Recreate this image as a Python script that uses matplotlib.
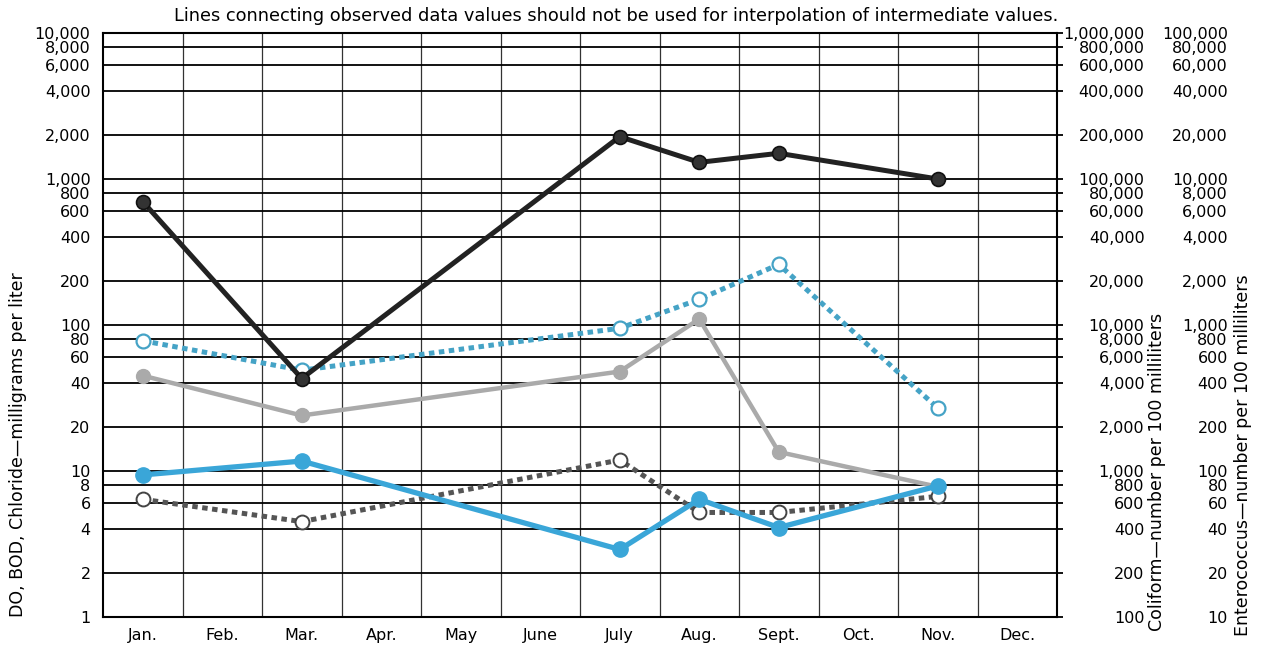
import numpy as np
from matplotlib import pyplot as plt
from matplotlib.ticker import FixedLocator, NullLocator

plt.rcParams['font.family'] = ['DejaVu Sans']

months = ["Jan.", "Feb.", "Mar.", "Apr.", "May", "June",
          "July", "Aug.", "Sept.", "Oct.", "Nov.", "Dec."]
sample_months = [0, 2, 6, 7, 8, 10]   # Jan, Mar, July, Aug, Sept, Nov

# values in the units of each scale
coliform = [70000, 4300, 195000, 130000, 150000, 100000]   # per 100 mL
enterococcus = [780, 490, 950, 1500, 2600, 270]           # per 100 mL
chloride = [45, 24, 48, 110, 13.5, 7.8]                    # mg/L
dissolved_oxygen = [9.4, 11.7, 2.9, 6.4, 4.1, 7.9]         # mg/L
bod = [6.4, 4.5, 11.9, 5.2, 5.2, 6.7]                      # mg/L

left_ticks = [1, 2, 4, 6, 8, 10, 20, 40, 60, 80, 100, 200, 400, 600, 800,
              1000, 2000, 4000, 6000, 8000, 10000]

fig = plt.figure(figsize=(12.81, 6.53), dpi=100)
ax = fig.add_axes([103 / 1281, 36 / 653, 954 / 1281, 584 / 653])

ax.set_yscale('log')
ax.set_ylim(1, 10000)
ax.set_xlim(-0.5, 11.5)

# grid
ax.yaxis.set_major_locator(FixedLocator(left_ticks))
ax.yaxis.set_minor_locator(NullLocator())
ax.set_yticklabels([f"{v:,}" for v in left_ticks])
ax.set_xticks(range(12))
ax.set_xticklabels(months)
ax.set_xticks(np.arange(0.5, 11.5, 1), minor=True)
ax.grid(axis='y', which='major', color='black', linewidth=1.3)
ax.grid(axis='x', which='minor', color='#333333', linewidth=0.9)
ax.tick_params(axis='x', which='both', length=0, labelsize=11.5, pad=8)
ax.tick_params(axis='y', which='major', length=0, labelsize=11.5, pad=9)
for s in ax.spines.values():
    s.set_linewidth(1.5)
    s.set_color('black')
ax.set_axisbelow(True)

# series
ax.plot(sample_months, np.array(coliform) / 100, color='#222222', lw=3.6,
        marker='o', ms=10, mfc='#333333', mec='#111111', mew=1.2, zorder=5,
        solid_capstyle='round')
ax.plot(sample_months, chloride, color='#aaaaaa', lw=3.2,
        marker='o', ms=10, mfc='#aaaaaa', mec='#aaaaaa', zorder=4)
ax.plot(sample_months, np.array(enterococcus) / 10, color='#45a3c6', lw=3.6,
        ls=(0, (1.1, 0.9)), marker='o', ms=10, mfc='white', mec='#45a3c6',
        mew=1.6, zorder=4)
ax.plot(sample_months, bod, color='#555555', lw=3.6,
        ls=(0, (1.1, 0.9)), marker='o', ms=10, mfc='white', mec='#444444',
        mew=1.4, zorder=4)
ax.plot(sample_months, dissolved_oxygen, color='#3aa6d8', lw=3.8,
        marker='o', ms=11, mfc='#3aa6d8', mec='#3aa6d8', zorder=6)

# right-hand scales
ax2 = ax.twinx()
ax2.set_yscale('log')
ax2.set_ylim(100, 1000000)
col_ticks = [v * 100 for v in left_ticks]
ax2.yaxis.set_major_locator(FixedLocator(col_ticks))
ax2.yaxis.set_minor_locator(NullLocator())
ax2.set_yticklabels([f"{v:,}" for v in col_ticks])
ax2.tick_params(axis='y', length=4, width=1.3, direction='out',
                labelsize=11.5, pad=59)
for lab in ax2.get_yticklabels():
    lab.set_horizontalalignment('right')
for s in ax2.spines.values():
    s.set_visible(False)

ax3 = ax.twinx()
ax3.set_yscale('log')
ax3.set_ylim(10, 100000)
ent_ticks = [v * 10 for v in left_ticks]
ax3.yaxis.set_major_locator(FixedLocator(ent_ticks))
ax3.yaxis.set_minor_locator(NullLocator())
ax3.set_yticklabels([f"{v:,}" for v in ent_ticks])
ax3.tick_params(axis='y', length=0, labelsize=11.5, pad=123)
for lab in ax3.get_yticklabels():
    lab.set_horizontalalignment('right')
for s in ax3.spines.values():
    s.set_visible(False)

fig.text(18 / 1281, 1 - 445 / 653, "DO, BOD, Chloride\u2014milligrams per liter",
         rotation=90, ha='center', va='center', fontsize=12.5)
fig.text(1157 / 1281, 1 - 472 / 653, "Coliform\u2014number per 100 milliliters",
         rotation=90, ha='center', va='center', fontsize=12.5)
fig.text(1243 / 1281, 1 - 455 / 653, "Enterococcus\u2014number per 100 milliliters",
         rotation=90, ha='center', va='center', fontsize=12.5)
fig.text(616 / 1281, 1 - 16 / 653,
         "Lines connecting observed data values should not be used for "
         "interpolation of intermediate values.",
         ha='center', va='center', fontsize=12.8)

fig.savefig('out.png', dpi=100)
